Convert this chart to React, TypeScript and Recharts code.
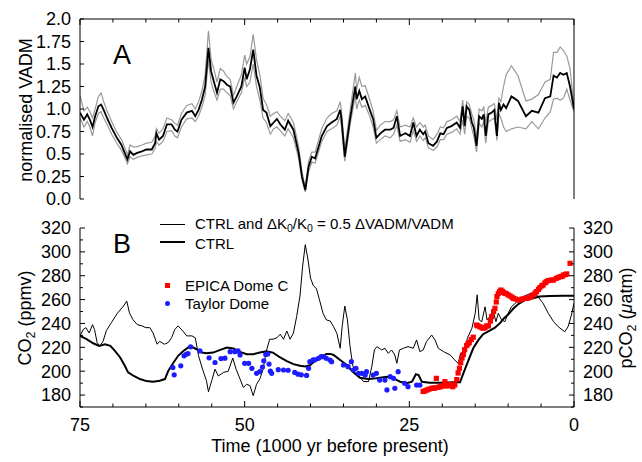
import React from 'react';
import { ComposedChart, Line, Scatter, XAxis, YAxis } from 'recharts';

const FONT = '"Liberation Sans", Arial, Helvetica, sans-serif';

// ---- panel A: normalised VADM (time in kyr before present)
const vadmTime = [
  75.0, 74.4, 73.9, 73.5, 73.1, 72.7, 72.2, 71.8, 71.4, 70.9,
  70.2, 69.4, 68.7, 68.2, 67.8, 67.4, 66.9, 66.4, 65.6, 64.9,
  64.1, 63.6, 63.4, 63.0, 62.4, 61.8, 61.1, 60.6, 60.2, 59.6,
  58.8, 58.0, 57.5, 57.0, 56.5, 56.0, 55.5, 55.1, 54.7, 54.2,
  53.7, 53.2, 52.7, 52.2, 51.7, 51.2, 50.5, 50.0, 49.7, 49.2,
  48.7, 48.2, 47.7, 47.2, 46.7, 46.1, 45.6, 45.1, 44.6, 43.9,
  43.4, 42.6, 41.8, 41.3, 40.8, 40.3, 39.8, 39.3, 38.3, 37.5,
  36.8, 36.0, 35.5, 35.3, 34.8, 34.0, 33.2, 33.0, 32.6, 32.2,
  31.7, 31.0, 30.5, 30.0, 29.4, 28.7, 27.9, 27.4, 26.9, 26.4,
  25.6, 24.9, 24.4, 23.9, 23.4, 22.9, 22.6, 22.1, 21.4, 20.8,
  20.3, 19.8, 19.3, 18.6, 17.8, 17.3, 16.9, 16.6, 16.3, 15.9,
  15.5, 15.2, 14.8, 14.4, 14.0, 13.7, 13.4, 13.0, 12.5, 12.1,
  11.7, 11.4, 11.1, 10.7, 10.3, 9.5, 8.5, 7.3, 6.4, 5.4,
  4.4, 3.6, 3.1, 2.6, 2.1, 1.6, 1.1, 0.6, 0.0,
];
const vadmCtrl = [
  0.96, 0.88, 0.94, 0.88, 0.80, 0.92, 1.03, 1.05, 0.99, 0.90,
  0.79, 0.68, 0.60, 0.51, 0.44, 0.53, 0.49, 0.51, 0.53, 0.55,
  0.55, 0.62, 0.73, 0.66, 0.70, 0.83, 0.83, 0.77, 0.75, 0.88,
  0.96, 0.98, 0.92, 0.99, 1.10, 1.25, 1.68, 1.42, 1.31, 1.18,
  1.33, 1.31, 1.27, 1.25, 1.07, 1.14, 1.25, 1.46, 1.33, 1.44,
  1.66, 1.37, 1.24, 0.99, 0.96, 0.81, 0.85, 0.89, 0.83, 0.77,
  0.87, 0.77, 0.51, 0.25, 0.10, 0.36, 0.47, 0.45, 0.70, 0.81,
  0.85, 0.89, 0.99, 0.89, 0.47, 0.89, 1.25, 1.11, 1.20, 1.11,
  1.14, 0.99, 0.89, 0.68, 0.73, 0.77, 0.77, 0.79, 0.92, 0.70,
  0.73, 0.70, 0.85, 0.70, 0.77, 0.72, 0.75, 0.62, 0.59, 0.64,
  0.73, 0.72, 0.79, 0.81, 0.85, 0.79, 1.03, 0.81, 1.03, 0.99,
  0.85, 0.79, 0.59, 0.92, 0.89, 0.94, 0.70, 0.94, 0.96, 0.99,
  0.70, 1.07, 0.99, 1.05, 1.01, 1.14, 1.09, 0.92, 0.98, 0.96,
  1.12, 1.14, 1.37, 1.35, 1.40, 1.38, 1.40, 1.25, 1.00,
];
const vadmUpper = [
  1.15, 0.98, 1.02, 0.97, 0.90, 1.00, 1.14, 1.18, 1.08, 0.98,
  0.86, 0.74, 0.66, 0.57, 0.49, 0.60, 0.58, 0.58, 0.60, 0.62,
  0.63, 0.70, 0.78, 0.73, 0.78, 0.90, 0.88, 0.84, 0.82, 0.95,
  1.04, 1.06, 1.00, 1.08, 1.20, 1.38, 1.87, 1.55, 1.45, 1.30,
  1.45, 1.42, 1.36, 1.33, 1.15, 1.25, 1.38, 1.60, 1.50, 1.58,
  1.83, 1.55, 1.38, 1.12, 1.05, 0.92, 0.95, 0.97, 0.92, 0.87,
  0.95, 0.85, 0.58, 0.30, 0.13, 0.42, 0.52, 0.52, 0.78, 0.90,
  0.95, 0.98, 1.08, 0.98, 0.55, 0.98, 1.40, 1.22, 1.35, 1.25,
  1.26, 1.10, 0.98, 0.76, 0.82, 0.86, 0.86, 0.88, 0.98, 0.80,
  0.82, 0.80, 0.90, 0.80, 0.85, 0.80, 0.82, 0.70, 0.66, 0.72,
  0.80, 0.79, 0.86, 0.88, 0.92, 0.86, 1.10, 0.88, 1.08, 1.05,
  0.94, 0.88, 0.68, 1.00, 0.98, 1.02, 0.85, 1.02, 1.04, 1.06,
  0.88, 1.12, 1.08, 1.25, 1.38, 1.48, 1.37, 1.09, 1.11, 1.16,
  1.30, 1.33, 1.63, 1.63, 1.69, 1.65, 1.59, 1.45, 1.02,
];
const vadmLower = [
  0.90, 0.80, 0.86, 0.80, 0.70, 0.85, 0.95, 0.97, 0.90, 0.83,
  0.72, 0.62, 0.54, 0.46, 0.39, 0.47, 0.44, 0.46, 0.48, 0.49,
  0.50, 0.56, 0.64, 0.60, 0.64, 0.75, 0.76, 0.70, 0.68, 0.80,
  0.89, 0.90, 0.86, 0.92, 1.02, 1.15, 1.55, 1.30, 1.20, 1.10,
  1.22, 1.22, 1.18, 1.15, 1.00, 1.08, 1.18, 1.35, 1.25, 1.30,
  1.50, 1.25, 1.10, 0.90, 0.85, 0.72, 0.78, 0.80, 0.76, 0.70,
  0.78, 0.68, 0.45, 0.21, 0.08, 0.30, 0.41, 0.40, 0.64, 0.75,
  0.78, 0.82, 0.92, 0.80, 0.42, 0.82, 1.15, 1.00, 1.10, 1.02,
  1.04, 0.92, 0.80, 0.62, 0.66, 0.70, 0.68, 0.72, 0.82, 0.64,
  0.66, 0.63, 0.76, 0.64, 0.70, 0.65, 0.68, 0.57, 0.54, 0.58,
  0.66, 0.66, 0.72, 0.74, 0.78, 0.72, 0.88, 0.72, 0.92, 0.90,
  0.78, 0.70, 0.52, 0.84, 0.80, 0.86, 0.62, 0.86, 0.88, 0.90,
  0.65, 0.95, 0.90, 0.80, 0.75, 0.78, 0.80, 0.78, 0.86, 0.78,
  0.90, 0.97, 1.11, 1.12, 1.10, 1.12, 1.22, 1.10, 0.97,
];

// ---- panel B: CO2
// CTRL and dK0/K0 = 0.5 dVADM/VADM (thin line)
const co2KTime = [
  75.0, 74.5, 74.1, 73.6, 73.1, 72.8, 72.4, 72.0, 71.5, 71.0,
  70.2, 69.4, 68.4, 67.9, 67.5, 67.0, 66.3, 65.6, 65.0, 64.4,
  63.9, 63.3, 62.9, 62.2, 61.6, 61.1, 60.6, 60.1, 59.4, 58.8,
  58.0, 57.5, 57.0, 56.4, 55.8, 55.5, 55.0, 54.5, 54.0, 53.2,
  52.5, 51.8, 51.3, 50.7, 50.2, 49.7, 49.2, 48.7, 48.2, 47.7,
  47.2, 46.7, 46.2, 45.7, 45.1, 44.6, 44.1, 43.6, 43.1, 42.6,
  42.1, 41.6, 41.2, 40.8, 40.4, 40.0, 39.6, 39.1, 38.7, 38.1,
  37.6, 37.0, 36.5, 36.0, 35.5, 35.2, 34.8, 34.4, 34.0, 33.6,
  33.2, 32.6, 32.0, 31.2, 30.7, 30.3, 29.9, 29.2, 28.7, 28.2,
  27.7, 27.2, 26.9, 26.5, 25.9, 25.2, 24.4, 23.9, 23.4, 22.9,
  22.4, 21.6, 21.1, 20.6, 19.8, 18.8, 18.1, 17.6, 17.2, 16.7,
  16.2, 15.5, 15.0, 14.7, 14.4, 14.0, 13.5, 13.2, 12.8, 12.3,
  11.85, 11.5, 11.0, 10.5, 10.0, 9.5, 8.7, 7.7, 6.7, 5.7,
  4.7, 3.9, 3.1, 2.4, 1.4, 0.9, 0.4, 0.0,
];
const co2KValue = [
  229.6, 235, 236.5, 232, 239, 235, 224, 221, 225, 234,
  241, 248, 254.6, 258.8, 249, 243.5, 239, 238, 236.5, 236.5,
  232, 222.6, 225, 222.6, 224, 228, 235, 238, 233.7, 229.6,
  229.6, 228, 212.9, 201.7, 192, 182.8, 192, 201.7, 196, 199,
  200, 211, 201.7, 193.4, 186.4, 189, 188, 179.5, 189, 193.4,
  201.7, 217, 226.8, 226.8, 228, 231, 226.8, 233.7, 226.8, 232,
  246, 263, 288, 306, 294, 278, 272, 269, 261, 248.5,
  243, 242, 237.3, 231.7, 219.2, 237.3, 254.6, 243, 220.6, 205.2,
  198, 196, 191.5, 191.2, 203.8, 218, 220.6, 217.8, 219.2, 215,
  217.8, 213.6, 206.6, 217.8, 219.2, 220.6, 219.2, 226.2, 216.4, 217.8,
  224.8, 230.3, 226.2, 219.2, 216.4, 213.6, 209.4, 206.6, 215, 212,
  227.5, 236, 248.5, 264, 243, 241.5, 254, 243, 245.7, 251.3,
  241.5, 248.5, 243, 241.5, 248.5, 254, 258, 262.5, 265, 264,
  257, 248.5, 241.5, 237.3, 233, 237.3, 247, 257,
];

// CTRL (thick line)
const co2CtrlTime = [
  75.0, 74.0, 73.0, 72.1, 71.2, 70.4, 69.7, 68.9, 68.2, 67.7,
  66.9, 65.9, 64.9, 63.9, 62.9, 62.1, 61.6, 60.8, 60.1, 59.3,
  58.6, 57.8, 57.3, 56.5, 55.8, 54.8, 53.7, 52.7, 51.7, 50.7,
  49.7, 48.7, 47.7, 46.7, 45.7, 44.6, 43.6, 42.6, 41.6, 40.8,
  40.1, 39.3, 38.6, 37.6, 37.0, 36.5, 35.5, 34.5, 33.5, 32.5,
  31.2, 30.0, 28.4, 27.4, 26.4, 25.4, 24.6, 24.0, 23.6, 23.1,
  21.9, 19.8, 17.8, 17.3, 16.8, 16.0, 15.3, 14.5, 13.8, 12.8,
  12.0, 11.2, 10.7, 10.0, 9.2, 8.4, 7.4, 6.4, 5.2, 3.7,
  1.6, 0.0,
];
const co2CtrlValue = [
  229.6, 226.8, 223.4, 221.2, 222.6, 221.2, 217, 211.5, 204.5, 199,
  196.2, 193.4, 191.7, 191.1, 192, 193.4, 200.3, 207.3, 212.9, 217,
  219.8, 219.8, 218.4, 215.6, 215, 215.6, 217.9, 219.8, 219, 216.2,
  214.2, 214.2, 215.6, 216.6, 215.6, 211.5, 208.5, 205.9, 204.5, 204,
  205, 208.7, 210.5, 214.5, 214.5, 213.6, 209.4, 205.2, 199, 194.5,
  193.5, 194, 195.4, 194, 191.2, 190, 191.2, 197.5, 196.8, 191.2,
  190.4, 190.4, 191, 190.8, 198.2, 209.4, 219.2, 226.2, 231, 234,
  236.5, 240.5, 244, 247.5, 252.5, 256.5, 259.7, 261, 262.5, 263,
  263.3, 263.3,
];

// Taylor Dome ice core
const taylorTime = [
  60.9, 60.7, 59.7, 59.2, 58.9, 58.6, 58.2, 56.8, 55.4, 54.5,
  53.6, 53.0, 52.2, 51.5, 51.0, 50.7, 50.0, 49.4, 48.9, 48.2,
  47.7, 47.3, 47.1, 46.8, 46.5, 46.3, 46.1, 45.9, 44.9, 44.1,
  43.4, 42.4, 41.9, 41.4, 40.6, 40.3, 40.1, 39.6, 39.3, 38.8,
  38.4, 38.1, 37.6, 37.05, 36.8, 35.0, 34.3, 33.8, 33.5, 33.1,
  32.7, 32.2, 31.7, 31.5, 30.5, 30.0, 29.5, 28.7, 28.4, 27.9,
  27.4, 27.2, 26.7, 25.7, 25.2, 23.9, 23.4,
];
const taylorCO2 = [
  203, 197, 204.5, 212.9, 214.2, 214.8, 220.4, 217, 211.2, 207.3,
  210.6, 210.9, 216.4, 216.4, 217, 213.6, 206.6, 206.6, 202.4, 198.2,
  199.6, 203.5, 208.7, 214, 214.5, 206, 200, 198.2, 201.3, 201,
  200.8, 199, 197.5, 197, 196.5, 202.4, 208, 209.5, 209.5, 210.8,
  212.2, 212.2, 210.8, 209.4, 208, 205.2, 203.8, 208, 201, 202.4,
  198.2, 198.2, 196.8, 199.6, 196.8, 198.2, 192.6, 192.6, 184.3, 195.4,
  194, 185.7, 199.6, 189.8, 187, 188.4, 188.4,
];

// EPICA Dome C ice core
const epicaTime = [
  22.9, 22.6, 22.3, 22.0, 21.6, 21.3, 21.1, 20.9, 20.6, 20.3,
  20.1, 19.8, 19.6, 19.3, 19.0, 18.8, 18.6, 18.4, 18.1, 17.8,
  17.6, 17.4, 17.2, 17.0, 16.8, 16.6, 16.3, 16.1, 15.9, 15.6,
  15.3, 14.8, 14.6, 14.3, 14.0, 13.8, 13.5, 13.3, 13.0, 12.7,
  12.5, 12.2, 12.0, 11.8, 11.7, 11.5, 11.3, 11.1, 10.9, 10.7,
  10.5, 10.3, 10.0, 9.7, 9.4, 9.2, 8.9, 8.5, 8.2, 7.9,
  7.5, 7.2, 6.9, 6.5, 6.2, 5.9, 5.7, 5.4, 5.2, 4.9,
  4.7, 4.4, 4.2, 3.9, 3.4, 3.1, 2.7, 2.4, 2.1, 1.8,
  1.6, 1.3, 1.1, 0.6,
];
const epicaCO2 = [
  183, 183.5, 184.3, 185, 185.7, 185.7, 186, 194, 186.5, 187,
  187.5, 188, 191.2, 187.6, 188, 188.5, 189, 187, 188.5, 193,
  198.5, 202.4, 207, 211, 214, 218, 221.5, 223, 224, 226.5,
  228.5, 238.7, 238, 237.3, 236.5, 236, 236.5, 237.9, 238, 242,
  245.7, 250, 252.7, 258, 262.5, 265, 266.7, 268, 267, 266,
  265.3, 265, 264, 263, 262, 261, 260.5, 259.7, 259.7, 260.5,
  261, 261, 261.5, 262.5, 264, 265.5, 266.7, 268.5, 270, 271.5,
  272.2, 274, 275, 276, 276.4, 276.4, 277.8, 278.5, 279.2, 279.5,
  280.6, 281, 281.5, 290.4,
];

// ---- ticks
const timeTicks = [0, 5, 10, 15, 20, 25, 30, 35, 40, 45, 50, 55, 60, 65, 70, 75];
const timeLabelTicks = [0, 25, 50, 75];
const vadmTicks = [0, 0.25, 0.5, 0.75, 1, 1.25, 1.5, 1.75, 2];
const vadmTickLabels = ['0.0', '0.25', '0.5', '0.75', '1.0', '1.25', '1.5', '1.75', '2.0'];
const co2Ticks = [170, 180, 190, 200, 210, 220, 230, 240, 250, 260, 270, 280, 290, 300, 310, 320];
const co2LabelTicks = [180, 200, 220, 240, 260, 280, 300, 320];

const vadmRows = vadmTime.map((t, i) => ({ t, ctrl: vadmCtrl[i], up: vadmUpper[i], lo: vadmLower[i] }));
const toRows = (ts: number[], vs: number[]) => ts.map((t, i) => ({ t, v: vs[i] }));
const co2KRows = toRows(co2KTime, co2KValue);
const co2CtrlRows = toRows(co2CtrlTime, co2CtrlValue);
const taylorRows = toRows(taylorTime, taylorCO2);
const epicaRows = toRows(epicaTime, epicaCO2);

const tickText = { fontFamily: FONT, fontSize: 18, fill: '#000' };

const TopTimeTick = (p: any) => {
  const major = p.payload.value % 25 === 0;
  return <line x1={p.x} x2={p.x} y1={p.y} y2={p.y + (major ? 6 : 3.5)} stroke="#000" />;
};

const BottomTimeTick = (p: any) => {
  const v = p.payload.value;
  const major = timeLabelTicks.includes(v);
  return (
    <g>
      <line x1={p.x} x2={p.x} y1={p.y} y2={p.y - (major ? 6 : 3.5)} stroke="#000" />
      {major && (
        <text x={p.x} y={p.y + 18} dy="0.35em" textAnchor="middle" style={tickText}>{v}</text>
      )}
    </g>
  );
};

const VadmTick = (p: any) => {
  const i = vadmTicks.indexOf(p.payload.value);
  return (
    <g>
      <line x1={p.x} x2={p.x + 4} y1={p.y} y2={p.y} stroke="#000" />
      <text x={p.x - 9} y={p.y} dy="0.35em" textAnchor="end" style={tickText}>{vadmTickLabels[i]}</text>
    </g>
  );
};

const makeCo2Tick = (side: 'left' | 'right') => (p: any) => {
  const v = p.payload.value;
  const major = co2LabelTicks.includes(v);
  const dir = side === 'left' ? 1 : -1;
  return (
    <g>
      <line x1={p.x} x2={p.x + dir * (major ? 5 : 3)} y1={p.y} y2={p.y} stroke="#000" />
      {major && (
        <text x={p.x - dir * 9} y={p.y} dy="0.35em" textAnchor={side === 'left' ? 'end' : 'start'} style={tickText}>{v}</text>
      )}
    </g>
  );
};
const Co2LeftTick = makeCo2Tick('left');
const Co2RightTick = makeCo2Tick('right');

const RedSquare = (p: any) => <rect x={p.cx - 2.6} y={p.cy - 2.6} width={5.2} height={5.2} fill="#ff0000" />;
const BlueDot = (p: any) => <circle cx={p.cx} cy={p.cy} r={2.6} fill="#1c1cff" />;

const Txt = ({ x, y, size = 18, rotate = 0, anchor = 'center', children }: any) => (
  <div
    style={{
      position: 'absolute',
      left: x,
      top: y,
      transform: `translate(${anchor === 'center' ? '-50%' : '0'}, -50%) rotate(${rotate}deg)`,
      transformOrigin: anchor === 'center' ? 'center' : 'left center',
      fontFamily: FONT,
      fontSize: size,
      lineHeight: 1,
      whiteSpace: 'nowrap',
      color: '#000',
    }}
  >
    {children}
  </div>
);

const Sub = ({ children }: any) => (
  <span style={{ fontSize: '0.7em', verticalAlign: '-0.3em' }}>{children}</span>
);

export default function App() {
  return (
    <div style={{ position: 'absolute', left: 0, top: 0, width: 642, height: 462, background: '#fff', overflow: 'hidden' }}>
      <div style={{ position: 'absolute', left: 0, top: 0 }}>
        <ComposedChart width={642} height={215} data={vadmRows} margin={{ top: 9, right: 58, bottom: 16, left: 30 }}>
          <XAxis
            xAxisId="t" type="number" dataKey="t" domain={[0, 75]} reversed orientation="top"
            ticks={timeTicks} interval={0} height={10} tickLine={false} tickSize={0} tickMargin={0}
            tick={TopTimeTick} stroke="#000" allowDataOverflow
          />
          <YAxis
            yAxisId="l" domain={[0, 2]} ticks={vadmTicks} interval={0} width={50}
            tickLine={false} tickSize={0} tickMargin={0} tick={VadmTick} stroke="#000" allowDataOverflow
          />
          <YAxis yAxisId="r" orientation="right" domain={[0, 2]} width={10} tick={false} tickLine={false} stroke="#000" allowDataOverflow />
          <Line xAxisId="t" yAxisId="l" type="linear" dataKey="up" stroke="#9a9a9a" strokeWidth={1.2} dot={false} isAnimationActive={false} />
          <Line xAxisId="t" yAxisId="l" type="linear" dataKey="lo" stroke="#9a9a9a" strokeWidth={1.2} dot={false} isAnimationActive={false} />
          <Line xAxisId="t" yAxisId="r" type="linear" dataKey="ctrl" stroke="#000" strokeWidth={1.8} dot={false} isAnimationActive={false} />
        </ComposedChart>
      </div>

      <div style={{ position: 'absolute', left: 0, top: 200 }}>
        <ComposedChart width={642} height={262} data={co2CtrlRows} margin={{ top: 28, right: 18, bottom: 10, left: 30 }}>
          <XAxis
            xAxisId="t" type="number" dataKey="t" domain={[0, 75]} reversed
            ticks={timeTicks} interval={0} height={45} tickLine={false} tickSize={0} tickMargin={0}
            tick={BottomTimeTick} stroke="#000" allowDataOverflow
          />
          <YAxis
            yAxisId="l" domain={[170, 320]} ticks={co2Ticks} interval={0} width={50}
            tickLine={false} tickSize={0} tickMargin={0} tick={Co2LeftTick} stroke="#000" allowDataOverflow
          />
          <YAxis
            yAxisId="r" orientation="right" domain={[170, 320]} ticks={co2Ticks} interval={0} width={50}
            tickLine={false} tickSize={0} tickMargin={0} tick={Co2RightTick} stroke="#000" allowDataOverflow
          />
          <Line xAxisId="t" yAxisId="l" data={co2KRows} type="linear" dataKey="v" stroke="#000" strokeWidth={1} dot={false} isAnimationActive={false} />
          <Line xAxisId="t" yAxisId="r" data={co2CtrlRows} type="linear" dataKey="v" stroke="#000" strokeWidth={2} dot={false} isAnimationActive={false} />
          <Scatter xAxisId="t" yAxisId="l" data={taylorRows} dataKey="v" shape={BlueDot} isAnimationActive={false} />
          <Scatter xAxisId="t" yAxisId="l" data={epicaRows} dataKey="v" shape={RedSquare} isAnimationActive={false} />
        </ComposedChart>
      </div>

      {/* panel letters and axis titles */}
      <Txt x={122} y={55} size={27}>A</Txt>
      <Txt x={122} y={244} size={27}>B</Txt>
      <Txt x={26} y={110} rotate={-90}>normalised VADM</Txt>
      <Txt x={27} y={318} rotate={-90}>CO<Sub>2</Sub> (ppmv)</Txt>
      <Txt x={628} y={318} rotate={-90}>pCO<Sub>2</Sub> (<i>μ</i>atm)</Txt>
      <Txt x={330} y={446}>Time (1000 yr before present)</Txt>

      {/* legend */}
      <div style={{ position: 'absolute', left: 160, top: 224, width: 25, height: 1, background: '#000' }} />
      <div style={{ position: 'absolute', left: 160, top: 241, width: 25, height: 2, background: '#000' }} />
      <Txt x={195} y={225} size={15} anchor="start">
        CTRL and ΔK<Sub>0</Sub>/K<Sub>0</Sub> = 0.5 ΔVADM/VADM
      </Txt>
      <Txt x={195} y={242.5} size={15} anchor="start">CTRL</Txt>
      <div style={{ position: 'absolute', left: 164.5, top: 282.5, width: 5.2, height: 5.2, background: '#ff0000' }} />
      <div style={{ position: 'absolute', left: 164.5, top: 300.5, width: 5.2, height: 5.2, borderRadius: '50%', background: '#1c1cff' }} />
      <Txt x={185} y={285} size={15} anchor="start">EPICA Dome C</Txt>
      <Txt x={185} y={303} size={15} anchor="start">Taylor Dome</Txt>
    </div>
  );
}
